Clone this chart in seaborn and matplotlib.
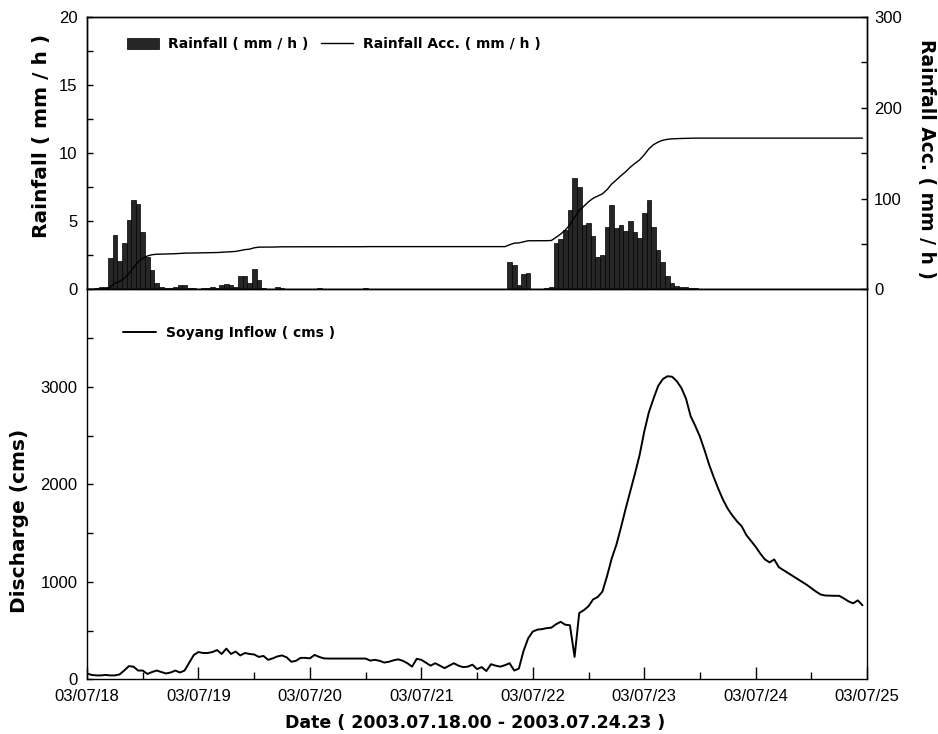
import numpy as np
import pandas as pd
import matplotlib
matplotlib.use("Agg")
import matplotlib.pyplot as plt
import seaborn as sns
from matplotlib.ticker import MultipleLocator, FixedLocator

# hourly rainfall (mm/h), 2003.07.18.00 - 2003.07.24.23, one row per day
rain_0718 = [0, 0, 0.1, 0.2, 0.2, 2.3, 4.0, 2.1, 3.4, 5.1, 6.6, 6.3,
             4.2, 2.4, 1.4, 0.5, 0.2, 0.1, 0.1, 0.2, 0.3, 0.3, 0.1, 0.1]
rain_0719 = [0, 0.1, 0.1, 0.2, 0.1, 0.3, 0.4, 0.3, 0.2, 1.0, 1.0, 0.5,
             1.5, 0.7, 0.1, 0, 0, 0.2, 0.1, 0, 0, 0, 0, 0]
rain_0720 = [0, 0, 0.1, 0, 0, 0, 0, 0, 0, 0, 0, 0,
             0.1, 0, 0, 0, 0, 0, 0, 0, 0, 0, 0, 0]
rain_0721 = [0, 0, 0, 0, 0, 0, 0, 0, 0, 0, 0, 0,
             0, 0, 0, 0, 0, 0, 0, 2.0, 1.8, 0.3, 1.15, 1.2]
rain_0722 = [0, 0, 0, 0.1, 0.2, 3.4, 3.7, 4.4, 5.8, 8.2, 7.5, 4.7,
             4.9, 3.9, 2.4, 2.5, 4.6, 6.2, 4.5, 4.7, 4.3, 5.0, 4.2, 3.8]
rain_0723 = [5.6, 6.6, 4.6, 2.9, 2.0, 1.0, 0.5, 0.25, 0.2, 0.15, 0.1, 0.1,
             0, 0, 0, 0, 0, 0, 0, 0, 0, 0, 0, 0]
rain_0724 = [0] * 24

# hourly Soyang inflow (cms)
flow_0718 = [60, 45, 40, 40, 45, 40, 40, 50, 90, 135, 130, 90,
             90, 55, 75, 90, 75, 60, 70, 90, 70, 90, 170, 250]
flow_0719 = [280, 270, 270, 280, 300, 260, 315, 260, 285, 245, 270, 260,
             255, 230, 240, 200, 215, 235, 245, 225, 180, 190, 220, 220]
flow_0720 = [215, 250, 230, 215, 213, 213, 213, 213, 213, 213, 213, 213,
             213, 192, 200, 190, 172, 180, 195, 205, 190, 165, 130, 210]
flow_0721 = [200, 170, 140, 165, 140, 115, 140, 165, 140, 125, 130, 150,
             105, 125, 85, 155, 140, 130, 145, 165, 90, 110, 290, 420]
flow_0722 = [490, 510, 515, 525, 530, 565, 590, 560, 555, 230, 680, 710,
             750, 820, 845, 900, 1060, 1240, 1380, 1560, 1750, 1930, 2110, 2300]
flow_0723 = [2540, 2740, 2880, 3010, 3080, 3110, 3105, 3060, 2990, 2880, 2700, 2600,
             2490, 2350, 2200, 2070, 1950, 1840, 1750, 1680, 1620, 1570, 1480, 1420]
flow_0724 = [1360, 1290, 1230, 1200, 1230, 1150, 1120, 1090, 1060, 1030, 1000, 970,
             935, 900, 870, 860, 858, 857, 857, 830, 800, 780, 810, 760]

date_labels = ["03/07/18", "03/07/19", "03/07/20", "03/07/21",
               "03/07/22", "03/07/23", "03/07/24", "03/07/25"]

rainfall = np.array(rain_0718 + rain_0719 + rain_0720 + rain_0721
                    + rain_0722 + rain_0723 + rain_0724, dtype=float)
inflow = np.array(flow_0718 + flow_0719 + flow_0720 + flow_0721
                  + flow_0722 + flow_0723 + flow_0724, dtype=float)
hours = np.arange(len(rainfall))
df = pd.DataFrame({
    "day": hours / 24.0,
    "rain": rainfall,
    "rain_acc": np.cumsum(rainfall),
    "inflow": inflow,
})

sns.set_theme(style="ticks")
plt.rcParams["font.family"] = ["Liberation Sans", "DejaVu Sans"]
plt.rcParams.update({
    "text.color": "black",
    "axes.labelcolor": "black",
    "axes.edgecolor": "black",
    "axes.linewidth": 1.0,
    "xtick.color": "black",
    "ytick.color": "black",
    "xtick.direction": "in",
    "ytick.direction": "in",
    "xtick.labelsize": 12,
    "ytick.labelsize": 12,
})

label_font = dict(family="DejaVu Sans", weight="bold", color="black")
legend_font = dict(family="DejaVu Sans", weight="bold", size=10)

fig = plt.figure(figsize=(9.38, 7.34), dpi=100)
ax_r = fig.add_axes([0.0928, 0.6056, 0.8316, 0.3712])
ax_q = fig.add_axes([0.0928, 0.0745, 0.8316, 0.5311])
ax_acc = ax_r.twinx()

# ---- top panel: rainfall bars + accumulated rainfall ----
edges = list((np.arange(len(rainfall) + 1) - 0.5) / 24.0)
sns.histplot(data=df, x="day", weights="rain", bins=edges, color="#262626",
             edgecolor="black", linewidth=0.5, alpha=1, ax=ax_r,
             label="Rainfall ( mm / h )")
sns.lineplot(data=df, x="day", y="rain_acc", color="black", linewidth=1.0,
             ax=ax_acc, legend=False, label="Rainfall Acc. ( mm / h )")

ax_r.set_xlim(0, 7)
ax_r.set_ylim(0, 20)
ax_r.yaxis.set_major_locator(MultipleLocator(5))
ax_r.yaxis.set_minor_locator(MultipleLocator(2.5))
ax_r.tick_params(axis="x", which="both", length=0, labelbottom=False)
ax_r.tick_params(axis="y", which="both", length=4, width=1, pad=7)
ax_r.set_xlabel("")
ax_r.set_ylabel("Rainfall ( mm / h )", fontsize=14.5, **label_font)
ax_r.yaxis.label.set_va("center")
ax_r.yaxis.set_label_coords(-0.059, 0.563)

ax_acc.set_ylim(0, 300)
ax_acc.yaxis.set_major_locator(MultipleLocator(100))
ax_acc.yaxis.set_minor_locator(MultipleLocator(50))
ax_acc.tick_params(axis="y", which="both", length=4, width=1, pad=5)
ax_acc.set_ylabel("Rainfall Acc. ( mm / h )", fontsize=13.5, rotation=270,
                  **label_font)
ax_acc.yaxis.label.set_va("center")
ax_acc.yaxis.set_label_coords(1.0756, 0.479)

h1, l1 = ax_r.get_legend_handles_labels()
h2, l2 = ax_acc.get_legend_handles_labels()
leg = ax_acc.legend(h1 + h2, l1 + l2, loc="center left",
                    bbox_to_anchor=(0.051, 0.90), ncol=2, frameon=False,
                    borderpad=0, borderaxespad=0, handlelength=2.3,
                    handleheight=0.85, handletextpad=0.7, columnspacing=0.9,
                    prop=legend_font, labelcolor="black")

# ---- bottom panel: inflow ----
sns.lineplot(data=df, x="day", y="inflow", color="black", linewidth=1.4,
             ax=ax_q, label="Soyang Inflow ( cms )")
ax_q.set_xlim(0, 7)
ax_q.set_ylim(0, 4000)
ax_q.xaxis.set_major_locator(FixedLocator(range(len(date_labels))))
ax_q.set_xticklabels(date_labels)
ax_q.xaxis.set_minor_locator(MultipleLocator(0.5))
ax_q.yaxis.set_major_locator(FixedLocator([0, 1000, 2000, 3000]))
ax_q.yaxis.set_minor_locator(MultipleLocator(500))
ax_q.tick_params(axis="x", which="major", length=9, width=1, pad=7)
ax_q.tick_params(axis="x", which="minor", length=5, width=1)
ax_q.tick_params(axis="y", which="both", length=4, width=1, pad=7)
ax_q.set_ylabel("Discharge (cms)", fontsize=14.5, **label_font)
ax_q.yaxis.label.set_va("center")
ax_q.yaxis.set_label_coords(-0.087, 0.406)
ax_q.set_xlabel("Date ( 2003.07.18.00 - 2003.07.24.23 )", fontsize=12.5,
                **label_font)
ax_q.xaxis.label.set_va("center")
ax_q.xaxis.set_label_coords(0.497, -0.112)
ax_q.legend(loc="center left", bbox_to_anchor=(0.0462, 0.8876), frameon=False,
            borderpad=0, borderaxespad=0, handlelength=2.4, handletextpad=0.7,
            prop=legend_font, labelcolor="black")

for ax in (ax_r, ax_q, ax_acc):
    for side in ("left", "right", "top", "bottom"):
        ax.spines[side].set_visible(True)
        ax.spines[side].set_color("black")
        ax.spines[side].set_linewidth(1.0)

fig.savefig("out.png", dpi=100)
